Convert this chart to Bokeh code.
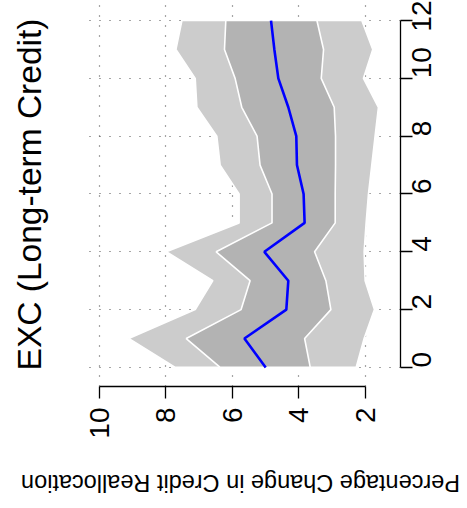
import math
from bokeh.plotting import figure
from bokeh.models import Range1d, FixedTicker, Label
from bokeh.embed import file_html
from bokeh.resources import INLINE

# ---- data ----
time = [0, 1, 2, 3, 4, 5, 6, 7, 8, 9, 10, 11, 12]
median = [5.00, 5.64, 4.38, 4.32, 5.04, 3.83, 3.86, 4.06, 4.08, 4.32, 4.62, 4.74, 4.84]
inner_hi = [6.37, 7.39, 5.74, 5.47, 6.49, 4.81, 4.81, 5.17, 5.26, 5.72, 5.92, 6.24, 6.20]
inner_lo = [3.66, 3.83, 3.04, 3.19, 3.53, 2.91, 2.91, 2.90, 2.90, 2.94, 3.33, 3.26, 3.46]
outer_hi = [7.72, 9.12, 7.12, 6.59, 7.99, 5.80, 5.80, 6.37, 6.47, 7.07, 7.12, 7.70, 7.52]
outer_lo = [2.28, 2.04, 1.73, 2.01, 2.04, 1.98, 1.91, 1.81, 1.71, 1.61, 2.06, 1.78, 2.11]
pct_ticks = [2, 4, 6, 8, 10]
time_ticks = [0, 2, 4, 6, 8, 10, 12]
title_text = "EXC (Long-term Credit)"
ylab_text = "Percentage Change in Credit Reallocation"

FONT = "Liberation Sans"

p = figure(width=467, height=508,
           x_range=Range1d(10.51, 0.946), y_range=Range1d(-0.66, 12.59),
           output_backend="svg", toolbar_location=None,
           x_axis_location="below", y_axis_location="right",
           min_border_left=82, min_border_right=67,
           min_border_top=3, min_border_bottom=122)
p.outline_line_color = None
p.background_fill_color = "white"
p.border_fill_color = "white"

# grid
for g, ticks in ((p.xgrid, pct_ticks), (p.ygrid, time_ticks)):
    g.ticker = FixedTicker(ticks=ticks)
    g.grid_line_color = "#4d4d4d"
    g.grid_line_dash = "1 9"
    g.grid_line_width = 1.2

# bands
p.patch(x=outer_lo + outer_hi[::-1], y=time + time[::-1],
        fill_color="#CCCCCC", line_color="white", line_width=1.6)
p.patch(x=inner_lo + inner_hi[::-1], y=time + time[::-1],
        fill_color="#B3B3B3", line_color="white", line_width=1.6)
p.line(x=median, y=time, line_color="blue", line_width=2.6)

# axes
for ax, ticks, bounds in ((p.xaxis[0], pct_ticks, (2, 10)), (p.yaxis[0], time_ticks, (0, 12))):
    ax.ticker = FixedTicker(ticks=ticks)
    ax.bounds = bounds
    ax.minor_tick_line_color = None
    ax.major_tick_in = 0
    ax.major_tick_out = 12
    ax.axis_line_width = 1.3
    ax.major_tick_line_width = 1.3
    ax.axis_line_color = "black"
    ax.major_tick_line_color = "black"
    ax.major_label_text_font = FONT
    ax.major_label_text_font_size = "28px"
    ax.major_label_text_color = "black"
    ax.major_label_orientation = math.pi / 2
    ax.major_label_standoff = 9

# title (reading bottom to top) and upside-down axis label, placed in side panels
p.add_layout(Label(x=29, y=194, x_units="canvas", y_units="canvas",
                   text=title_text, angle=math.pi / 2,
                   text_align="center", text_baseline="middle",
                   text_font=FONT, text_font_size="33.5px", text_color="black"), "left")
p.add_layout(Label(x=240, y=482, x_units="canvas", y_units="canvas",
                   text=ylab_text, angle=math.pi,
                   text_align="center", text_baseline="middle",
                   text_font=FONT, text_font_size="23.5px", text_color="black"), "below")

open("out.html", "w").write(file_html(p, INLINE))
